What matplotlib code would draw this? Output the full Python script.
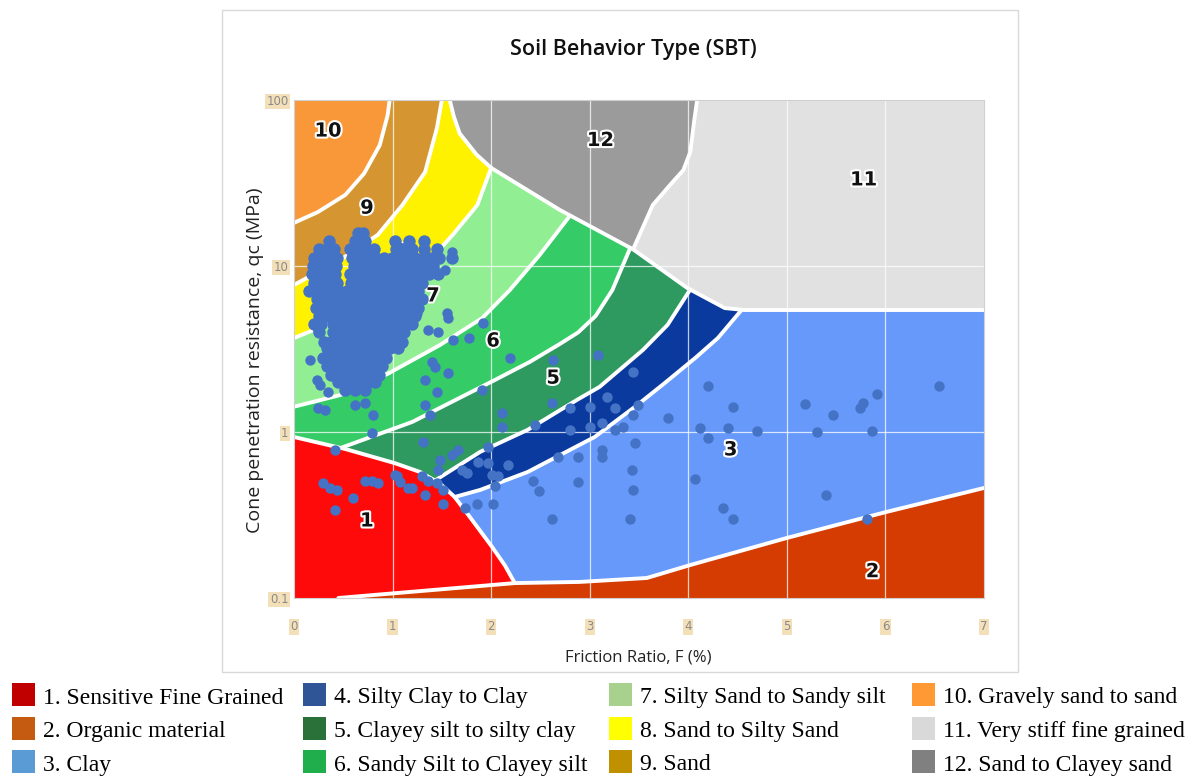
"""
Robertson soil behaviour type (SBT) chart with CPT readings overlaid.
Friction ratio F (%) on a linear axis, cone resistance qc (MPa) on a log axis.
"""

import matplotlib
matplotlib.use("Agg")
import matplotlib.pyplot as plt
import matplotlib.patheffects as pe
from matplotlib.patches import Rectangle

# =============================================================================
# ZONE BOUNDARIES  (F %, qc MPa)
# =============================================================================

b10_9_F = [0.0, 0.24, 0.52, 0.71, 0.87, 0.95, 0.97]
b10_9_qc = [18.2, 21.1, 26.8, 36.0, 53.5, 81.0, 100]

b9_8_F = [1.50, 1.45, 1.33, 1.10, 0.85, 0.47, 0.0]
b9_8_qc = [100, 67.8, 36.8, 23.3, 15.4, 10.9, 7.69]

b8_12_F = [1.58, 1.62, 1.68, 1.85, 2.00]
b8_12_qc = [100, 80, 63, 47, 39]

b8_7_F = [2.00, 1.86, 1.61, 1.33, 0.97, 0.57, 0.0]
b8_7_qc = [39, 23.3, 15.4, 10.1, 7.17, 5.07, 3.68]

b7_6_F = [2.80, 2.49, 2.19, 1.91, 1.48, 0.95, 0.47, 0.0]
b7_6_qc = [20.1, 11.6, 7.17, 4.86, 3.34, 2.24, 1.67, 1.42]

b6_5_F = [3.41, 3.23, 3.06, 2.88, 2.70, 2.39, 2.04, 1.20, 0.47]
b6_5_qc = [12.8, 7.17, 5.0, 3.97, 3.40, 2.64, 2.06, 1.15, 0.80]

b5_4_F = [4.02, 3.79, 3.54, 3.10, 2.87, 2.37, 1.89, 1.43]
b5_4_qc = [7.22, 4.42, 3.12, 1.87, 1.56, 1.03, 0.76, 0.51]

b4_3_F = [4.54, 4.30, 4.07, 3.76, 3.48, 3.05, 2.37, 1.89, 1.63]
b4_3_qc = [5.43, 3.68, 2.79, 1.97, 1.45, 0.933, 0.574, 0.448, 0.406]

# upper limit of the fine grained fan (12 / 11 below, 7-3 above)
diag_F = [2.00, 2.70, 3.44, 3.99, 4.37, 4.57, 7.0]
diag_qc = [39, 21.7, 12.6, 7.37, 5.58, 5.43, 5.43]

b12_11_F = [3.44, 3.64, 3.83, 3.95, 4.02, 4.06, 4.09]
b12_11_qc = [12.6, 23.3, 31.5, 37.8, 48.6, 75, 100]

# sensitive fine grained (zone 1) upper edge
red_F = [0.0, 0.52, 1.02, 1.28, 1.48, 1.63, 1.78, 2.01, 2.14, 2.24]
red_qc = [0.933, 0.79, 0.65, 0.574, 0.49, 0.406, 0.31, 0.203, 0.157, 0.123]

# organic material (zone 2) upper edge
base_F = [0.45, 2.24, 2.90, 3.58, 4.02, 5.00, 6.01, 7.0]
base_qc = [0.1, 0.123, 0.125, 0.132, 0.158, 0.230, 0.330, 0.46]

ZONE_COLORS = {
    1: "#FF0A0A", 2: "#D43C02", 3: "#6699FA", 4: "#0B3A9E",
    5: "#2E9A60", 6: "#35CB67", 7: "#92EE92", 8: "#FFF200",
    9: "#D59632", 10: "#F99838", 11: "#E1E1E1", 12: "#9B9B9B",
}

ZONE_TAGS = ["1", "2", "3", "5", "6", "7", "8", "9", "10", "11", "12"]
TAG_F = [0.74, 5.87, 4.43, 2.63, 2.02, 1.41, 1.08, 0.74, 0.345, 5.78, 3.11]
TAG_QC = [0.291, 0.144, 0.78, 2.11, 3.53, 6.6, 12.1, 22.3, 65, 33, 57]

# =============================================================================
# CPT READINGS
# =============================================================================

# dense part of the sounding, row by row: (qc, [F ...])
cluster_rows = [
    (15.8, [0.65, 0.70]),
    (14.1, [0.36, 0.62, 0.72, 1.02, 1.17, 1.32]),
    (12.6, [0.25, 0.33, 0.41, 0.57, 0.65, 0.73, 0.81, 1.03, 1.11, 1.20, 1.32, 1.45]),
    (11.2, [0.20, 0.28, 0.36, 0.44, 0.59, 0.67, 0.75, 0.83, 0.91, 0.99, 1.07, 1.15,
            1.23, 1.31, 1.39, 1.47, 1.60]),
    (10.0, [0.19, 0.27, 0.35, 0.43, 0.61, 0.69, 0.77, 0.85, 0.93, 1.01, 1.09, 1.17,
            1.25, 1.33, 1.41]),
    (8.9, [0.18, 0.26, 0.34, 0.42, 0.57, 0.65, 0.73, 0.81, 0.89, 0.97, 1.05, 1.13,
           1.21, 1.29, 1.37, 1.46]),
    (7.9, [0.20, 0.28, 0.36, 0.44, 0.58, 0.66, 0.74, 0.82, 0.90, 0.98, 1.06, 1.14,
           1.22, 1.30]),
    (7.1, [0.15, 0.22, 0.30, 0.38, 0.46, 0.54, 0.62, 0.70, 0.78, 0.86, 0.94, 1.02,
           1.10, 1.18, 1.26]),
    (6.3, [0.23, 0.31, 0.39, 0.47, 0.55, 0.63, 0.71, 0.79, 0.87, 0.95, 1.03, 1.11,
           1.19, 1.30]),
    (5.6, [0.22, 0.30, 0.38, 0.46, 0.54, 0.62, 0.70, 0.78, 0.86, 0.94, 1.02, 1.10,
           1.18, 1.26]),
    (5.0, [0.25, 0.33, 0.41, 0.49, 0.57, 0.65, 0.73, 0.81, 0.89, 0.97, 1.05, 1.13, 1.23]),
    (4.5, [0.20, 0.27, 0.40, 0.48, 0.56, 0.64, 0.72, 0.80, 0.88, 0.96, 1.04, 1.12, 1.20]),
    (4.0, [0.25, 0.40, 0.48, 0.56, 0.64, 0.72, 0.80, 0.88, 0.96, 1.04, 1.12]),
    (3.5, [0.30, 0.38, 0.46, 0.54, 0.62, 0.70, 0.78, 0.86, 0.94, 1.02, 1.10]),
    (3.2, [0.33, 0.41, 0.49, 0.57, 0.65, 0.73, 0.81, 0.89, 0.97, 1.05]),
    (2.8, [0.29, 0.37, 0.45, 0.53, 0.61, 0.69, 0.77, 0.85, 0.93]),
    (2.5, [0.33, 0.41, 0.49, 0.57, 0.65, 0.73, 0.81, 0.89]),
    (2.2, [0.38, 0.46, 0.54, 0.62, 0.70, 0.78, 0.86]),
    (2.0, [0.45, 0.55, 0.65, 0.75, 0.82]),
    (1.8, [0.52, 0.62, 0.72]),
]

# scattered readings
pts_F = [
    0.24, 0.16, 0.23, 0.26, 0.34, 0.24, 0.31, 0.62, 0.72, 0.80, 0.79, 1.60, 1.45, 1.53,
    1.25, 1.36, 1.46, 1.55, 1.56, 1.61, 1.78, 1.92, 2.19, 1.40, 1.43, 1.56, 1.33, 1.45,
    1.91, 1.33, 1.38, 1.31, 2.11, 2.11,
    2.63, 3.08, 3.44, 2.62, 2.44, 2.80, 3.00, 3.18, 3.26, 3.49, 3.79, 2.80, 3.00, 3.12,
    3.26, 3.34, 3.44, 1.97, 1.66, 1.60, 1.48, 1.46, 1.70, 1.87, 1.97, 2.01, 2.07, 2.17,
    1.75, 2.04, 2.68, 2.88, 3.12, 3.12, 3.46, 3.43, 2.88, 2.49, 2.42, 3.44, 2.02, 1.86,
    1.73, 1.51, 1.45, 1.36, 1.30, 1.16, 1.02, 1.08, 0.79, 0.72, 0.85, 0.60, 0.42, 0.29,
    0.37, 0.44, 0.42, 2.62, 3.41, 1.04, 1.20, 1.33, 1.51,
    4.20, 4.45, 4.12, 4.20, 4.40, 4.70, 4.07, 4.35, 4.45, 5.18, 5.47, 5.31, 5.40, 5.74,
    5.77, 5.91, 5.86, 6.54, 5.81,
]
pts_qc = [
    4.11, 2.72, 2.06, 1.92, 1.74, 1.40, 1.36, 1.45, 1.50, 1.27, 0.99, 12.1, 11.3, 9.46,
    5.21, 4.11, 4.00, 5.21, 4.86, 3.58, 3.68, 4.54, 2.79, 2.64, 2.47, 2.27, 2.06, 1.74,
    1.79, 1.45, 1.27, 0.87, 1.30, 1.07,
    2.72, 2.91, 2.30, 1.50, 1.10, 1.40, 1.42, 1.62, 1.40, 1.45, 1.21, 1.03, 1.07, 1.13,
    1.03, 1.07, 1.27, 0.81, 0.78, 0.73, 0.68, 0.59, 0.59, 0.66, 0.65, 0.55, 0.54, 0.63,
    0.57, 0.47, 0.71, 0.71, 0.78, 0.71, 0.86, 0.59, 0.50, 0.44, 0.51, 0.45, 0.37, 0.37,
    0.35, 0.45, 0.49, 0.51, 0.54, 0.46, 0.55, 0.50, 0.51, 0.51, 0.49, 0.40, 0.34, 0.49,
    0.46, 0.45, 0.78, 0.30, 0.30, 0.54, 0.46, 0.42, 0.37,
    1.89, 1.42, 1.06, 0.92, 1.06, 1.01, 0.52, 0.35, 0.30, 1.48, 1.27, 1.00, 0.42, 1.40,
    1.50, 1.69, 1.01, 1.89, 0.30,
]

# =============================================================================
# LEGEND
# =============================================================================

legend_labels = [
    "1. Sensitive Fine Grained", "2. Organic material", "3. Clay",
    "4. Silty Clay to Clay", "5. Clayey silt to silty clay", "6. Sandy Silt to Clayey silt",
    "7. Silty Sand to Sandy silt", "8. Sand to Silty Sand", "9. Sand",
    "10. Gravely sand to sand", "11. Very stiff fine grained", "12. Sand to Clayey sand",
]
legend_colors = [
    "#C00000", "#C55A11", "#5B9BD5", "#2F5597", "#2A7139", "#20AD4B",
    "#A9D18E", "#FFFF00", "#BF9000", "#FF9933", "#D9D9D9", "#808080",
]

W, H = 1189, 782
SANS = ["Open Sans", "DejaVu Sans"]


def _fill(ax, f, q, color):
    ax.fill(f, q, color=color, lw=0, zorder=1)


def _edge(ax, f, q):
    ax.plot(f, q, color="white", lw=2.8, solid_capstyle="round",
            solid_joinstyle="round", zorder=2)


def main():
    fig = plt.figure(figsize=(W / 100, H / 100), dpi=100)

    # page layer in pixel units: frame, titles, legend
    lax = fig.add_axes([0, 0, 1, 1], zorder=0)
    lax.set_xlim(0, W)
    lax.set_ylim(H, 0)
    lax.axis("off")
    lax.add_patch(Rectangle((222, 10), 796, 662, fill=False, ec="#d9d9d9", lw=1.0))
    lax.text(633, 50, "Soil Behavior Type (SBT)", ha="center", va="center",
             fontsize=15.5, weight="semibold", family=SANS, color="#111111")
    lax.text(638, 657, "Friction Ratio, F (%)", ha="center", va="center",
             fontsize=12, family=SANS, color="#222222")
    lax.text(255, 360, "Cone penetration resistance, qc (MPa)", ha="center",
             va="center", rotation=90, fontsize=14, family=SANS, color="#222222")

    col_x = [12, 303, 609, 912]
    row_y = [683, 717, 750]
    for i, (lab, col) in enumerate(zip(legend_labels, legend_colors)):
        x0, y0 = col_x[i // 3], row_y[i % 3]
        lax.add_patch(Rectangle((x0, y0), 23, 23, color=col, lw=0))
        lax.text(x0 + 31, y0 + 15, lab, ha="left", va="center", fontsize=17,
                 family=["Liberation Serif", "DejaVu Serif"], color="black")

    # SBT chart
    ax = fig.add_axes([294 / W, 1 - 598 / H, 690 / W, 498 / H], zorder=1)
    ax.set_xlim(0, 7)
    ax.set_yscale("log")
    ax.set_ylim(0.1, 100)

    _fill(ax, [0, 7, 7, 0], [0.1, 0.1, 100, 100], ZONE_COLORS[3])
    _fill(ax, b4_3_F + [0, 0, b4_3_F[0]], b4_3_qc + [b4_3_qc[-1], 100, 100], ZONE_COLORS[4])
    _fill(ax, b5_4_F + [0, 0, b5_4_F[0]], b5_4_qc + [b5_4_qc[-1], 100, 100], ZONE_COLORS[5])
    _fill(ax, b6_5_F + [0, 0, b6_5_F[0]], b6_5_qc + [b6_5_qc[-1], 100, 100], ZONE_COLORS[6])
    _fill(ax, b7_6_F + [0, b7_6_F[0]], b7_6_qc + [100, 100], ZONE_COLORS[7])
    _fill(ax, b8_7_F + [0, b8_7_F[0]], b8_7_qc + [100, 100], ZONE_COLORS[8])
    _fill(ax, b9_8_F + [0], b9_8_qc + [100], ZONE_COLORS[9])
    _fill(ax, b10_9_F + [0], b10_9_qc + [100], ZONE_COLORS[10])

    # 12: between the sand fan and the very stiff zone
    _fill(ax, b8_12_F + diag_F[1:3] + b12_11_F[1:],
          b8_12_qc + diag_qc[1:3] + b12_11_qc[1:], ZONE_COLORS[12])
    # 11: very stiff fine grained
    _fill(ax, b12_11_F + [7] + diag_F[::-1][:5],
          b12_11_qc + [100] + diag_qc[::-1][:5], ZONE_COLORS[11])
    # 1 and 2 along the bottom
    _fill(ax, [0] + red_F + [base_F[0]], [0.1] + red_qc + [base_qc[0]], ZONE_COLORS[1])
    _fill(ax, base_F + [7], base_qc + [0.1], ZONE_COLORS[2])

    for f, q in [(b10_9_F, b10_9_qc), (b9_8_F, b9_8_qc), (b8_12_F, b8_12_qc),
                 (b8_7_F, b8_7_qc), (b7_6_F, b7_6_qc), (b6_5_F, b6_5_qc),
                 (b5_4_F, b5_4_qc), (b4_3_F, b4_3_qc), (diag_F, diag_qc),
                 (b12_11_F, b12_11_qc), (red_F, red_qc), (base_F, base_qc)]:
        _edge(ax, f, q)

    for v in range(1, 7):
        ax.axvline(v, color="white", lw=0.9, alpha=0.75, zorder=2.5)
    for h in (1, 10):
        ax.axhline(h, color="white", lw=0.9, alpha=0.75, zorder=2.5)

    halo = [pe.withStroke(linewidth=3, foreground="white")]
    for tag, f, q in zip(ZONE_TAGS, TAG_F, TAG_QC):
        ax.text(f, q, tag, ha="center", va="center", fontsize=14, weight="bold",
                color="#111111", path_effects=halo, zorder=3)

    cl_F = [f for q, row in cluster_rows for f in row]
    cl_qc = [q for q, row in cluster_rows for f in row]
    ax.scatter(cl_F, cl_qc, s=80, color="#4472C4", lw=0, zorder=4)
    ax.scatter(pts_F, pts_qc, s=56, color="#4472C4", lw=0, zorder=4)

    # axes cosmetics
    ax.set_xticks(range(8))
    ax.set_yticks([0.1, 1, 10, 100])
    ax.set_yticklabels(["0.1", "1", "10", "100"])
    ax.minorticks_off()
    ax.tick_params(length=0, labelsize=8.5, labelcolor="#8a8a8a")
    ax.tick_params(axis="x", pad=16)
    ax.tick_params(axis="y", pad=4)
    for lbl in ax.get_xticklabels() + ax.get_yticklabels():
        lbl.set_family(["Liberation Sans Narrow", "DejaVu Sans"])
        lbl.set_bbox(dict(facecolor="#f3dfb8", edgecolor="none", pad=1.0))
    for sp in ax.spines.values():
        sp.set_color("#d0d0d0")
        sp.set_linewidth(0.8)

    fig.savefig("out.png", dpi=100)
    plt.close(fig)


if __name__ == "__main__":
    main()
